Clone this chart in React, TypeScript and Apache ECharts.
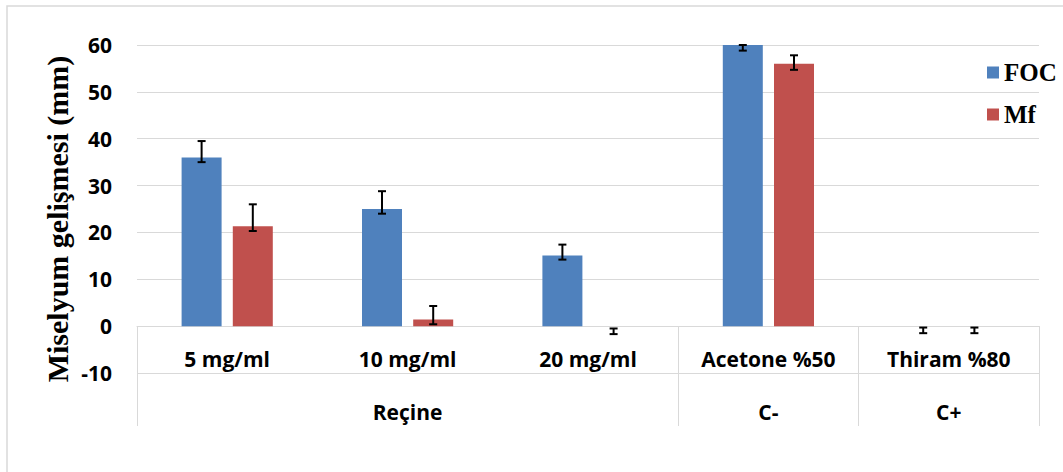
import React, { useEffect, useRef } from "react";
import * as echarts from "echarts";

const categories = ["5 mg/ml", "10 mg/ml", "20 mg/ml", "Acetone %50", "Thiram %80"];
const groupLabels = ["", "Reçine", "", "C-", "C+"];
const groupBoundaryIdx = [0, 3, 4];
const seriesNames = ["FOC", "Mf"];
const focValues = [36.0, 25.0, 15.1, 60.0, 0];
const mfValues = [21.3, 1.4, 0, 56.0, 0];
const focErrLow = [35.0, 24.0, 14.2, 58.8, -1.5];
const focErrHigh = [39.5, 28.8, 17.4, 60.0, -0.3];
const mfErrLow = [20.3, 0.4, -1.7, 54.7, -1.5];
const mfErrHigh = [26.0, 4.3, -0.5, 57.8, -0.3];
const yMin = -10;
const yMax = 60;
const yStep = 10;

const FONT_SANS = "'Open Sans', 'Liberation Sans', sans-serif";
const FONT_SERIF = "'Liberation Serif', 'Times New Roman', serif";
const GRID_COLOR = "#d9d9d9";

function errorSeries(low: number[], high: number[], offset: number) {
  return {
    type: "custom",
    xAxisIndex: 0,
    yAxisIndex: 0,
    z: 10,
    silent: true,
    encode: { x: 0, y: [1, 2] },
    data: low.map((l, i) => [i, l, high[i]]),
    renderItem: (params: any, api: any) => {
      const idx = api.value(0);
      const lo = api.coord([idx, api.value(1)]);
      const hi = api.coord([idx, api.value(2)]);
      const x = lo[0] + offset;
      const cap = 4;
      const style = { stroke: "#000", lineWidth: 2 };
      return {
        type: "group",
        children: [
          { type: "line", shape: { x1: x, y1: lo[1], x2: x, y2: hi[1] }, style },
          { type: "line", shape: { x1: x - cap, y1: lo[1], x2: x + cap, y2: lo[1] }, style },
          { type: "line", shape: { x1: x - cap, y1: hi[1], x2: x + cap, y2: hi[1] }, style },
        ],
      };
    },
  };
}

export default function App() {
  const ref = useRef<HTMLDivElement>(null);
  useEffect(() => {
    if (!ref.current) return;
    const chart = echarts.init(ref.current, null, { renderer: "svg" });
    const tickInterval = (i: number) => groupBoundaryIdx.indexOf(i) >= 0;
    chart.setOption({
      animation: false,
      backgroundColor: "#fff",
      grid: { left: 137, right: 24, top: 45, bottom: 99 },
      legend: {
        data: seriesNames,
        orient: "vertical",
        left: 982,
        top: 55,
        icon: "rect",
        itemWidth: 12,
        itemHeight: 12,
        itemGap: 17,
        textStyle: {
          fontFamily: FONT_SERIF,
          fontWeight: "bold",
          fontSize: 25,
          lineHeight: 25,
          color: "#000",
        },
      },
      xAxis: [
        {
          type: "category",
          data: categories,
          position: "bottom",
          offset: -47,
          axisLine: { onZero: false, lineStyle: { color: GRID_COLOR, width: 1 } },
          axisTick: {
            show: true,
            interval: tickInterval,
            length: 47,
            lineStyle: { color: GRID_COLOR, width: 1 },
          },
          axisLabel: {
            interval: 0,
            margin: 22,
            fontFamily: FONT_SANS,
            fontWeight: "bold",
            fontSize: 21,
            color: "#000",
          },
        },
        {
          type: "category",
          data: groupLabels,
          position: "bottom",
          axisLine: { show: false, onZero: false },
          axisTick: {
            show: true,
            interval: tickInterval,
            length: 53,
            lineStyle: { color: GRID_COLOR, width: 1 },
          },
          axisLabel: {
            interval: 0,
            margin: 28,
            fontFamily: FONT_SANS,
            fontWeight: "bold",
            fontSize: 21,
            color: "#000",
          },
        },
      ],
      yAxis: {
        type: "value",
        min: yMin,
        max: yMax,
        interval: yStep,
        axisLine: { show: false },
        axisTick: { show: false },
        splitLine: { lineStyle: { color: GRID_COLOR, width: 1 } },
        axisLabel: {
          margin: 25,
          fontFamily: FONT_SANS,
          fontWeight: "bold",
          fontSize: 21,
          color: "#000",
        },
      },
      graphic: [
        {
          type: "rect",
          shape: { x: 7, y: 6, width: 1100, height: 500 },
          style: { fill: "none", stroke: GRID_COLOR, lineWidth: 1.5 },
          silent: true,
        },
        {
          type: "text",
          x: 57,
          y: 219,
          rotation: Math.PI / 2,
          style: {
            text: "Miselyum gelişmesi (mm)",
            font: `bold 30px ${FONT_SERIF}`,
            fill: "#000",
            textAlign: "center",
            textVerticalAlign: "middle",
          },
        },
      ],
      series: [
        {
          name: seriesNames[0],
          type: "bar",
          data: focValues,
          barWidth: 40,
          barGap: "28%",
          itemStyle: { color: "#4F81BD" },
        },
        {
          name: seriesNames[1],
          type: "bar",
          data: mfValues,
          barWidth: 40,
          barGap: "28%",
          itemStyle: { color: "#C0504D" },
        },
        errorSeries(focErrLow, focErrHigh, -25.6),
        errorSeries(mfErrLow, mfErrHigh, 25.6),
      ],
    });
    return () => chart.dispose();
  }, []);
  return (
    <div
      ref={ref}
      style={{ position: "fixed", left: 0, top: 0, width: 1063, height: 472 }}
    />
  );
}
